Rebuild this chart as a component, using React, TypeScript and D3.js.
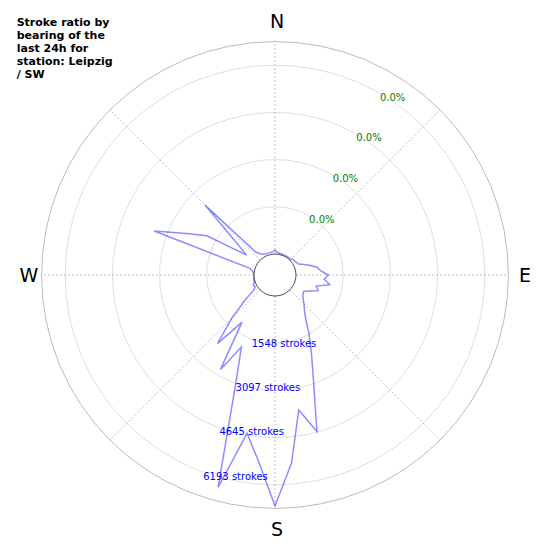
import { useEffect, useRef } from 'react';
import * as d3 from 'd3';

// bearing of each bin, degrees clockwise from north
const bearings = [
    0, 5, 10, 15, 20, 25, 30, 35, 40, 45, 50, 55,
    60, 65, 70, 75, 80, 85, 90, 95, 100, 105, 110, 115,
    120, 125, 130, 135, 140, 145, 150, 155, 160, 165, 170, 175,
    180, 185, 190, 195, 200, 205, 210, 215, 220, 225, 230, 235,
    240, 245, 250, 255, 260, 265, 270, 275, 280, 285, 290, 295,
    300, 305, 310, 315, 320, 325, 330, 335, 340, 345, 350, 355,
];

// strokes per bearing bin
const strokeCounts = [
    131, 66, 43, 33, 33, 33, 33, 33, 33, 46, 89, 98,
    131, 164, 328, 525, 722, 820, 1059, 932, 1135, 712, 820, 558,
    394, 426, 515, 656, 813, 1066, 1542, 2139, 3005, 4625, 3805, 5511,
    6888, 5462, 4582, 6521, 3051, 1919, 2887, 1197, 2247, 1312, 590, 151,
    66, 98, 33, 33, 16, 0, 0, 16, 66, 164, 3526, 2526,
    1889, 449, 971, 2559, 295, 164, 98, 75, 66, 62, 66, 82,
];

const rMax = 6967;
const ringValues = [1548, 3097, 4645, 6193];
const ringLabels = ['1548 strokes', '3097 strokes', '4645 strokes', '6193 strokes'];
const ratioLabels = ['0.0%', '0.0%', '0.0%', '0.0%'];
const gridBearings = [0, 45, 90, 135, 180, 225, 270, 315];
const compassBearings = [0, 90, 180, 270];
const compassLabels = ['N', 'E', 'S', 'W'];
const titleLines = ['Stroke ratio by', 'bearing of the', 'last 24h for', 'station: Leipzig', '/ SW'];

const FONT = '"DejaVu Sans", sans-serif';

function StrokeRose() {
    const chartRef = useRef(null);

    useEffect(() => {
        drawRose();
    }, []);

    function drawRose() {
        const svg = d3.select(chartRef.current);
        svg.selectAll('*').remove();

        const cx = 275;
        const cy = 275;
        const rad = (deg: number) => (deg * Math.PI) / 180;

        const r = d3.scaleLinear().domain([0, rMax]).range([21, 233.4]);

        const g = svg.append('g').attr('transform', `translate(${cx},${cy})`);

        // rings
        g.selectAll('.ring')
            .data(ringValues)
            .enter()
            .append('circle')
            .attr('r', (d) => r(d))
            .attr('fill', 'none')
            .attr('stroke', '#d6d6d6')
            .attr('stroke-width', 0.8);

        // outer edge
        g.append('circle')
            .attr('r', r(rMax))
            .attr('fill', 'none')
            .attr('stroke', '#a8a8a8')
            .attr('stroke-width', 0.8);

        // spokes
        g.selectAll('.spoke')
            .data(gridBearings)
            .enter()
            .append('line')
            .attr('x1', (d) => r(0) * Math.sin(rad(d)))
            .attr('y1', (d) => -r(0) * Math.cos(rad(d)))
            .attr('x2', (d) => r(rMax) * Math.sin(rad(d)))
            .attr('y2', (d) => -r(rMax) * Math.cos(rad(d)))
            .attr('stroke', '#b4b4b4')
            .attr('stroke-width', 0.8)
            .attr('stroke-dasharray', '2,2');

        // stroke line
        const line = d3
            .lineRadial<number>()
            .angle((_d, i) => rad(bearings[i]))
            .radius((d) => r(d))
            .curve(d3.curveLinearClosed);

        g.append('path')
            .attr('d', line(strokeCounts) as string)
            .attr('fill', 'none')
            .attr('stroke', 'blue')
            .attr('stroke-opacity', 0.45)
            .attr('stroke-width', 1.5)
            .attr('stroke-linejoin', 'miter');

        // hole in the middle
        g.append('circle')
            .attr('r', r(0))
            .attr('fill', 'white')
            .attr('stroke', '#222')
            .attr('stroke-width', 0.8);

        // stroke count labels, bearing 200
        g.selectAll('.count')
            .data(ringValues)
            .enter()
            .append('text')
            .attr('x', (d) => r(d) * Math.sin(rad(200)))
            .attr('y', (d) => -r(d) * Math.cos(rad(200)) + 7.6)
            .attr('font-family', FONT)
            .attr('font-size', 10)
            .attr('fill', 'blue')
            .text((_d, i) => ringLabels[i]);

        // ratio labels, bearing 30
        g.selectAll('.ratio')
            .data(ringValues)
            .enter()
            .append('text')
            .attr('x', (d) => r(d) * Math.sin(rad(30)))
            .attr('y', (d) => -r(d) * Math.cos(rad(30)) + 7.3)
            .attr('font-family', FONT)
            .attr('font-size', 10)
            .attr('fill', 'green')
            .text((_d, i) => ratioLabels[i]);

        // compass
        g.selectAll('.compass')
            .data(compassBearings)
            .enter()
            .append('text')
            .attr('x', (d) => 2 + 248 * Math.sin(rad(d)))
            .attr('y', (d) => -254 * Math.cos(rad(d)) + 7)
            .attr('text-anchor', 'middle')
            .attr('font-family', FONT)
            .attr('font-size', 19)
            .attr('fill', 'black')
            .text((_d, i) => compassLabels[i]);

        // title
        svg.append('g')
            .selectAll('text')
            .data(titleLines)
            .enter()
            .append('text')
            .attr('x', 16.7)
            .attr('y', (_d, i) => 25.5 + i * 13.1)
            .attr('font-family', FONT)
            .attr('font-size', 11)
            .attr('font-weight', 'bold')
            .attr('fill', 'black')
            .text((d) => d);
    }

    return (
        <svg
            ref={chartRef}
            width="550"
            height="550"
            style={{ position: 'absolute', left: 0, top: 0, background: 'white' }}
        ></svg>
    );
}

export default function App() {
    return <StrokeRose />;
}
